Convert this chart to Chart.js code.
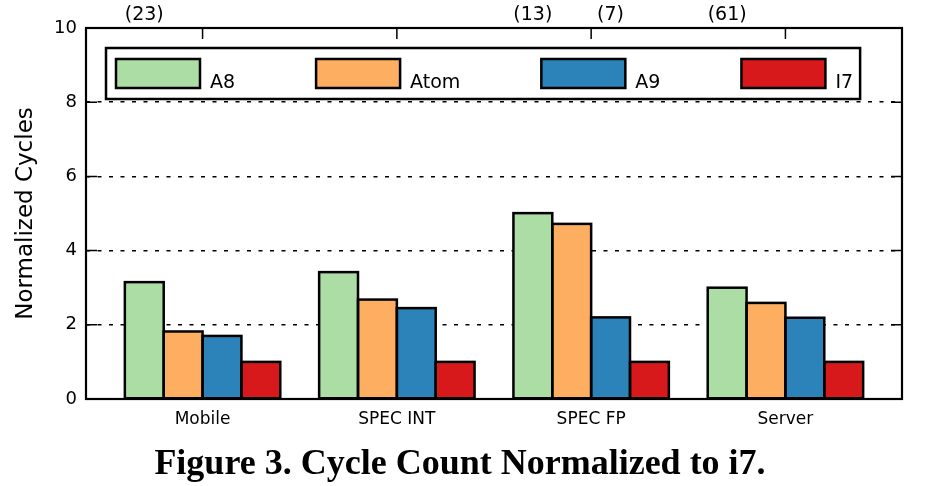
<!DOCTYPE html>
<html>
<head>
<meta charset="utf-8">
<script src="https://cdn.jsdelivr.net/npm/chart.js@4.4.0/dist/chart.umd.min.js"></script>
<style>
  body { margin: 0; background: #fff; }
  #wrap { position: relative; width: 943px; height: 486px; }
  #caption { position: absolute; left: 0; top: 441px; width: 920px; text-align: center;
    font: bold 36px "Liberation Serif", "Times New Roman", serif; color: #000; }
</style>
</head>
<body>
<div id="wrap">
  <canvas id="chart" width="943" height="486"></canvas>
  <div id="caption">Figure 3. Cycle Count Normalized to i7.</div>
</div>
<script>
// Datos
const categories = ['Mobile', 'SPEC INT', 'SPEC FP', 'Server'];
const seriesNames = ['A8', 'Atom', 'A9', 'I7'];
const a8 = [3.15, 3.42, 5.01, 3.00];
const atom = [1.82, 2.68, 4.72, 2.59];
const a9 = [1.70, 2.45, 2.20, 2.19];
const i7 = [1.0, 1.0, 1.0, 1.0];
const yTicks = [0, 2, 4, 6, 8, 10];

// Valores fuera de escala anotados encima de las barras
const noteText = ['(23)', '(13)', '(7)', '(61)'];
const noteCategory = [0, 2, 2, 3];
const noteSeries = [0, 0, 2, 0];

const colors = ['#abdda4', '#fdae61', '#2b83ba', '#d7191c'];
const seriesValues = [a8, atom, a9, i7];

Chart.defaults.font.family = "'DejaVu Sans', sans-serif";
Chart.defaults.color = '#000';

const datasets = seriesNames.map((name, i) => ({
    label: name,
    data: seriesValues[i].map((v, j) => ({ x: j, y: v })),
    backgroundColor: colors[i],
    borderWidth: 0,
    categoryPercentage: 0.8,
    barPercentage: 1.0
}));

// Borde negro centrado sobre el contorno de cada barra (como matplotlib)
const barEdgePlugin = {
    id: 'barEdges',
    afterDatasetsDraw(chart) {
        const ctx = chart.ctx;
        ctx.save();
        ctx.strokeStyle = '#000';
        ctx.lineWidth = 2.5;
        ctx.lineJoin = 'miter';
        chart.data.datasets.forEach((ds, i) => {
            chart.getDatasetMeta(i).data.forEach(bar => {
                const p = bar.getProps(['x', 'y', 'base', 'width'], true);
                const l = p.x - p.width / 2;
                ctx.strokeRect(l, p.y, p.width, p.base - p.y);
            });
        });
        ctx.restore();
    }
};

// Marco, marcas hacia dentro, leyenda y anotaciones estilo matplotlib
const framePlugin = {
    id: 'frame',
    afterDraw(chart) {
        const ctx = chart.ctx;
        const area = chart.chartArea;
        const xs = chart.scales.x;
        const ys = chart.scales.y;
        ctx.save();
        ctx.strokeStyle = '#000';
        ctx.lineWidth = 1.5;
        ctx.beginPath();
        yTicks.forEach(v => {
            const py = ys.getPixelForValue(v);
            ctx.moveTo(area.left, py); ctx.lineTo(area.left + 11, py);
            ctx.moveTo(area.right - 11, py); ctx.lineTo(area.right, py);
        });
        categories.forEach((c, i) => {
            const px = xs.getPixelForValue(i);
            ctx.moveTo(px, area.top); ctx.lineTo(px, area.top + 11);
            ctx.moveTo(px, area.bottom); ctx.lineTo(px, area.bottom - 11);
        });
        ctx.stroke();

        ctx.lineWidth = 2.2;
        ctx.strokeRect(area.left, area.top, area.right - area.left, area.bottom - area.top);

        // anotaciones
        ctx.fillStyle = '#000';
        ctx.font = "19px 'DejaVu Sans'";
        ctx.textAlign = 'center';
        ctx.textBaseline = 'alphabetic';
        noteText.forEach((t, k) => {
            const bar = chart.getDatasetMeta(noteSeries[k]).data[noteCategory[k]];
            ctx.fillText(t, bar.x, area.top - 8);
        });

        // leyenda
        const boxLeft = area.left + 20;
        const boxTop = area.top + 20;
        const boxH = 51;
        ctx.textAlign = 'left';
        let x = boxLeft + 10;
        const items = [];
        chart.data.datasets.forEach(ds => {
            const w = ctx.measureText(ds.label).width;
            items.push({ x: x, label: ds.label, color: ds.backgroundColor, w: w });
            x += 84 + 10 + w + 81;
        });
        const last = items[items.length - 1];
        const boxRight = last.x + 84 + 10 + last.w + 7;
        ctx.fillStyle = '#fff';
        ctx.fillRect(boxLeft, boxTop, boxRight - boxLeft, boxH);
        ctx.lineWidth = 2.5;
        ctx.strokeRect(boxLeft, boxTop, boxRight - boxLeft, boxH);
        items.forEach(it => {
            ctx.fillStyle = it.color;
            ctx.fillRect(it.x, boxTop + 11, 84, 29);
            ctx.strokeRect(it.x, boxTop + 11, 84, 29);
            ctx.fillStyle = '#000';
            ctx.fillText(it.label, it.x + 94, boxTop + 40);
        });
        ctx.restore();
    }
};

const chart = new Chart(document.getElementById('chart').getContext('2d'), {
    type: 'bar',
    data: { datasets: datasets },
    options: {
        responsive: false,
        animation: false,
        layout: { padding: { top: 28, right: 41, left: 0, bottom: 0 } },
        plugins: { legend: { display: false }, tooltip: { enabled: false } },
        scales: {
            x: {
                type: 'linear',
                offset: false,
                min: -0.6,
                max: 3.6,
                grid: { display: false, drawTicks: false, offset: false },
                border: { display: false },
                afterBuildTicks: s => { s.ticks = categories.map((c, i) => ({ value: i })); },
                afterFit: s => { s.height = 87; },
                ticks: {
                    autoSkip: false,
                    maxRotation: 0,
                    padding: 10,
                    font: { size: 17 },
                    callback: v => categories[v]
                }
            },
            y: {
                min: 0,
                max: 10,
                afterBuildTicks: s => { s.ticks = yTicks.map(v => ({ value: v })); },
                afterFit: s => { s.width = 86; },
                grid: { color: '#000', lineWidth: 1.5, drawTicks: false },
                border: { display: false, dash: [4, 7.5] },
                ticks: { padding: 9, font: { size: 18 } },
                title: {
                    display: true,
                    text: 'Normalized Cycles',
                    font: { size: 23 },
                    padding: { top: 12, bottom: 0 }
                }
            }
        }
    },
    plugins: [barEdgePlugin, framePlugin]
});
</script>
</body>
</html>
